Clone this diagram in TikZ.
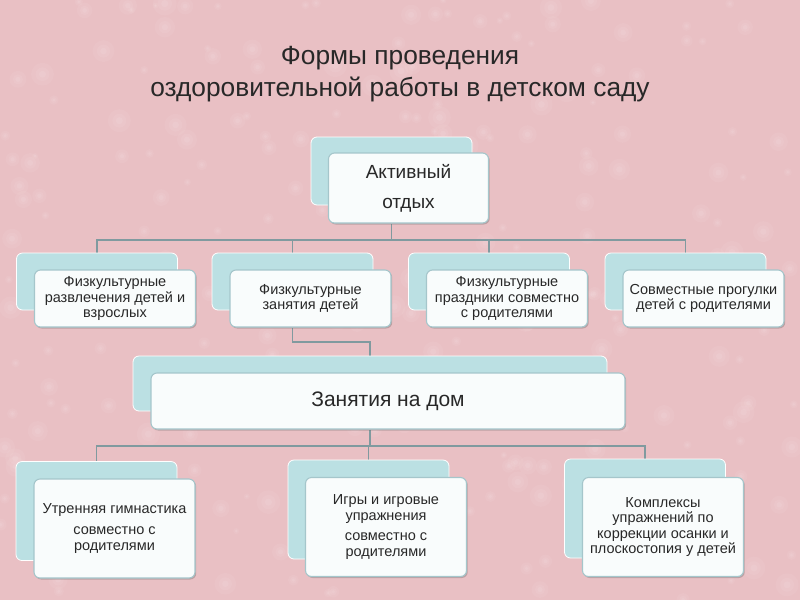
\documentclass[tikz,border=0pt]{standalone}
\usepackage{fontspec}
\setmainfont{Liberation Sans}
\usetikzlibrary{shadows}
\definecolor{bgpink}{RGB}{233,192,196}
\definecolor{backteal}{RGB}{187,224,227}
\definecolor{frontfill}{RGB}{249,252,252}
\definecolor{frontedge}{RGB}{165,198,203}
\definecolor{connclr}{RGB}{128,154,159}
\definecolor{txt}{RGB}{40,40,40}
\pgfdeclarelayer{bg}
\pgfsetlayers{bg,main}
\tikzset{
 backbox/.style={rectangle, rounded corners=6pt, fill=backteal, draw=white, line width=0.8pt, inner sep=0pt, minimum width=161pt, minimum height=57pt},
 frontbox/.style={rectangle, rounded corners=6pt, fill=frontfill, draw=frontedge, line width=1.1pt, inner sep=0pt, align=center, text=txt, minimum width=161pt, minimum height=57pt,
   drop shadow={shadow xshift=1.2pt, shadow yshift=-1.5pt, opacity=0.35, fill=black!60}},
 conn/.style={draw=connclr, line width=1.5pt},
 boxtxt/.style={font=\fontsize{14.5}{15.5}\selectfont},
 tall/.style={minimum height=99pt},
}
\begin{document}
\begin{tikzpicture}[x=1pt,y=-1pt]
\useasboundingbox (0,0) rectangle (800,600);
% title
\node[align=center, text=txt, font=\fontsize{26.3}{32}\selectfont] (title) at (400,74)
  {Формы проведения\\оздоровительной работы в детском саду};
% top box
\node[backbox, minimum height=68pt] (bT) at (391.5,171) {};
\node[frontbox, minimum width=160pt, minimum height=70pt, font=\fontsize{19}{30}\selectfont] (fT) at (408.5,188) {Активный\\отдых};
% row 2
\node[backbox] (b1) at (97,281.5) {};
\node[frontbox, boxtxt] (f1) at (115,298.5) {Физкультурные\\развлечения детей и\\взрослых};
\node[backbox] (b2) at (292.5,281.5) {};
\node[frontbox, boxtxt] (f2) at (310.5,298.5) {Физкультурные\\занятия детей};
\node[backbox] (b3) at (489,281.5) {};
\node[frontbox, boxtxt] (f3) at (507,298.5) {Физкультурные\\праздники совместно\\с родителями};
\node[backbox] (b4) at (685.5,281.5) {};
\node[frontbox, boxtxt] (f4) at (703.5,298.5) {Совместные прогулки\\детей с родителями};
% home
\node[backbox, minimum width=474pt, minimum height=55pt] (bH) at (370,383.5) {};
\node[frontbox, minimum width=474pt, minimum height=56pt, font=\fontsize{21}{25}\selectfont] (fH) at (388,401) {Занятия на дом};
% row 3
\node[backbox, tall] (b5) at (96.5,511) {};
\node[frontbox, tall, boxtxt] (f5) at (114.5,528.5) {Утренняя гимнастика\\[6pt]совместно с\\родителями};
\node[backbox, tall] (b6) at (368.5,509.5) {};
\node[frontbox, tall, boxtxt] (f6) at (386,527) {Игры и игровые\\упражнения\\[5pt]совместно с\\родителями};
\node[backbox, tall] (b7) at (645,508.5) {};
\node[frontbox, tall, boxtxt] (f7) at (663,527) {Комплексы\\упражнений по\\коррекции осанки и\\плоскостопия у детей};
\coordinate (busA) at (0,240);
\coordinate (elb) at (0,342);
\coordinate (busB) at (0,446);
\begin{pgfonlayer}{bg}
\fill[bgpink] (0,0) rectangle (800,600);
\pgfmathsetseed{11}
\foreach \i in {1,...,260}{
  \pgfmathsetmacro\rx{rnd*800}
  \pgfmathsetmacro\ry{rnd*600}
  \pgfmathsetmacro\rr{3+rnd*9}
  \pgfmathsetmacro\rm{0.6*\rr}
  \pgfmathsetmacro\rs{0.3*\rr}
  \fill[white, opacity=0.05] (\rx,\ry) circle (\rr pt);
  \fill[white, opacity=0.06] (\rx,\ry) circle (\rm pt);
  \fill[white, opacity=0.08] (\rx,\ry) circle (\rs pt);
}
\draw[conn] (bT.south |- fT.south) -- (bT.south |- busA);
\draw[conn] (b1.north) -- (b1.north |- busA) -- (b4.north |- busA) -- (b4.north);
\draw[conn] (b2.north) -- (b2.north |- busA);
\draw[conn] (b3.north) -- (b3.north |- busA);
\draw[conn] (b2.south |- f2.south) -- (b2.south |- elb) -| (bH.north);
\draw[conn] (bH.south |- fH.south) -- (bH.south |- busB);
\draw[conn] (b5.north) -- (b5.north |- busB) -- (b7.north |- busB) -- (b7.north);
\draw[conn] (b6.north) -- (b6.north |- busB);
\end{pgfonlayer}
\end{tikzpicture}
\end{document}
